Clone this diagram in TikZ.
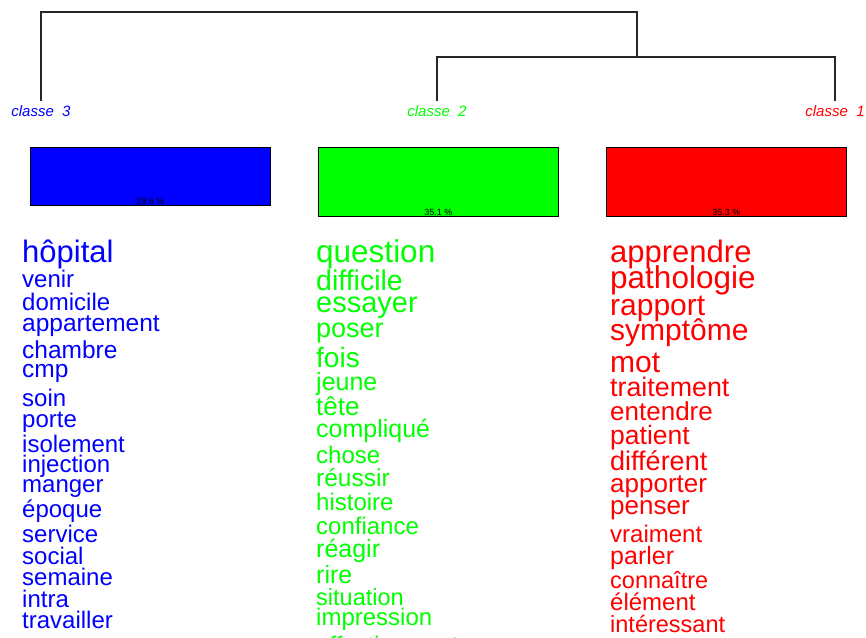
\documentclass[tikz,border=0pt]{standalone}
\usepackage{fontspec}
\setmainfont{Liberation Sans}
\begin{document}
\begin{tikzpicture}[x=1pt, y=-1pt,
    tree/.style={line width=1.2pt, draw=black!85},
    classlabel/.style={font=\itshape\fontsize{15}{15}\selectfont, inner sep=0pt},
    bar/.style={draw=black, line width=0.8pt, anchor=north west, minimum width=240pt, inner sep=0pt},
    pct/.style={font=\fontsize{9}{9}\selectfont, anchor=base, inner sep=0pt},
    word/.style={anchor=base west, inner sep=0pt, font=\fontsize{#1}{#1}\selectfont},
    wthree/.style={word=#1, text=blue},
    wtwo/.style={word=#1, text=green},
    wone/.style={word=#1, text=red}]
    \useasboundingbox (0,0) rectangle (866,637);
    \clip (0,0) rectangle (866,637);

    % Dendrogram
    \coordinate (c3) at (41,101);
    \coordinate (c2) at (437,101);
    \coordinate (c1) at (835,101);
    \coordinate (j12) at (637,57);
    \coordinate (top) at (637,12);
    \draw[tree] (c3) |- (top) -- (j12);
    \draw[tree] (c2) |- (j12) -| (c1);

    % Class labels
    \node[classlabel, text=blue] (l3) at (41,111) {classe\ \ 3};
    \node[classlabel, text=green] (l2) at (437,111) {classe\ \ 2};
    \node[classlabel, text=red] (l1) at (835,111) {classe\ \ 1};

    % Bars with class sizes
    \node[bar, fill=blue, minimum height=58pt] (b3) at (30,147) {};
    \node[bar, fill=green, minimum height=69pt] (b2) at (318,147) {};
    \node[bar, fill=red, minimum height=69pt] (b1) at (606,147) {};
    \node[pct] (p3) at ([yshift=1pt]b3.south) {29.6 \%};
    \node[pct] (p2) at ([yshift=1pt]b2.south) {35.1 \%};
    \node[pct] (p1) at ([yshift=1pt]b1.south) {35.3 \%};

    % Words of class 3
    \node[wthree=31] (hopital) at (22,262) {hôpital};
    \node[wthree=24] (venir) at (22,287) {venir};
    \node[wthree=24] (domicile) at (22,310) {domicile};
    \node[wthree=24.5] (appartement) at (22,331) {appartement};
    \node[wthree=24.5] (chambre) at (22,358) {chambre};
    \node[wthree=24.5] (cmp) at (22,377) {cmp};
    \node[wthree=24] (soin) at (22,406) {soin};
    \node[wthree=24] (porte) at (22,427) {porte};
    \node[wthree=24] (isolement) at (22,452) {isolement};
    \node[wthree=24] (injection) at (22,472) {injection};
    \node[wthree=24] (manger) at (22,492) {manger};
    \node[wthree=24] (epoque) at (22,517) {époque};
    \node[wthree=24] (service) at (22,542) {service};
    \node[wthree=24] (social) at (22,564) {social};
    \node[wthree=24] (semaine) at (22,585) {semaine};
    \node[wthree=24] (intra) at (22,607) {intra};
    \node[wthree=24] (travailler) at (22,628) {travailler};

    % Words of class 2
    \node[wtwo=31.5] (question) at (316,262) {question};
    \node[wtwo=28.5] (difficile) at (316,290) {difficile};
    \node[wtwo=29] (essayer) at (316,312) {essayer};
    \node[wtwo=27] (poser) at (316,337) {poser};
    \node[wtwo=28] (fois) at (316,367) {fois};
    \node[wtwo=25] (jeune) at (316,390) {jeune};
    \node[wtwo=26] (tete) at (316,415) {tête};
    \node[wtwo=25] (complique) at (316,437) {compliqué};
    \node[wtwo=24] (chose) at (316,463) {chose};
    \node[wtwo=24.5] (reussir) at (316,486) {réussir};
    \node[wtwo=24] (histoire) at (316,510) {histoire};
    \node[wtwo=24] (confiance) at (316,534) {confiance};
    \node[wtwo=25] (reagir) at (316,557) {réagir};
    \node[wtwo=25] (rire) at (316,583) {rire};
    \node[wtwo=23.5] (situation) at (316,605) {situation};
    \node[wtwo=24] (impression) at (316,625) {impression};
    \node[wtwo=24] (effectivement) at (316,653) {effectivement};

    % Words of class 1
    \node[wone=31] (apprendre) at (610,262) {apprendre};
    \node[wone=31.5] (pathologie) at (610,288) {pathologie};
    \node[wone=30] (rapport) at (610,315) {rapport};
    \node[wone=30] (symptome) at (610,340) {symptôme};
    \node[wone=30] (mot) at (610,372) {mot};
    \node[wone=26.8] (traitement) at (610,396) {traitement};
    \node[wone=26] (entendre) at (610,420) {entendre};
    \node[wone=26.5] (patient) at (610,444) {patient};
    \node[wone=27] (different) at (610,470) {différent};
    \node[wone=26] (apporter) at (610,492) {apporter};
    \node[wone=26] (penser) at (610,514) {penser};
    \node[wone=24] (vraiment) at (610,542) {vraiment};
    \node[wone=25] (parler) at (610,564) {parler};
    \node[wone=23.5] (connaitre) at (610,588) {connaître};
    \node[wone=24] (element) at (610,610) {élément};
    \node[wone=23.5] (interessant) at (610,632) {intéressant};
\end{tikzpicture}
\end{document}
